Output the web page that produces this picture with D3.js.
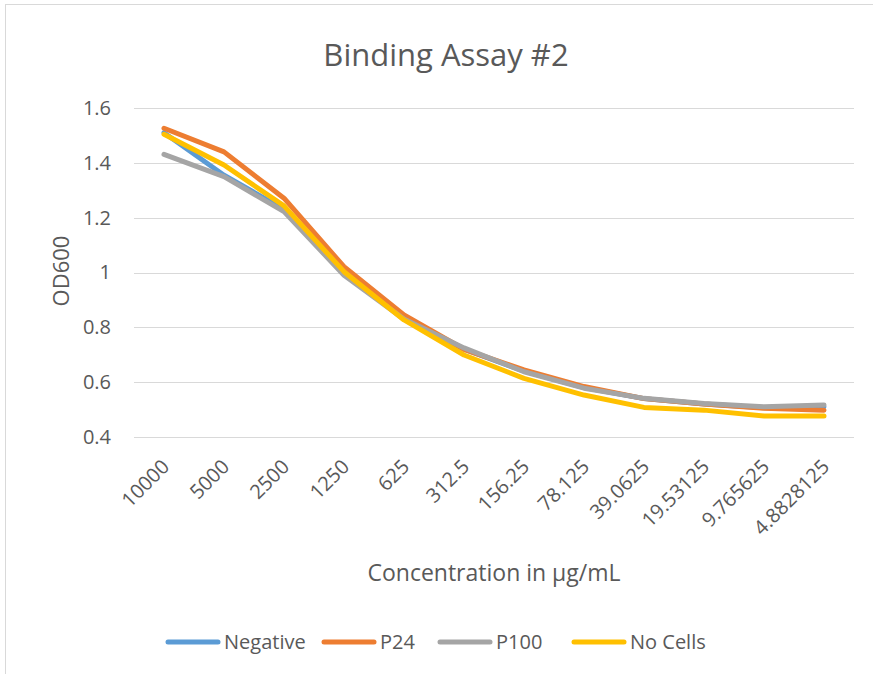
<!DOCTYPE html>
<html>
<head>
<meta charset="utf-8">
<script src="https://cdn.jsdelivr.net/npm/d3@7"></script>
<style>
  body { margin: 0; background: #fff; }
  svg { display: block; font-family: "Open Sans", sans-serif; }
</style>
</head>
<body>
<svg id="chart" width="873" height="674"></svg>
<script>
// dilution series (x categories), as printed on the axis
const categories = ["10000", "5000", "2500", "1250", "625", "312.5", "156.25",
    "78.125", "39.0625", "19.53125", "9.765625", "4.8828125"];

// OD600 readings
const negative = [1.51, 1.355, 1.23, 1.01, 0.835, 0.72, 0.64, 0.58, 0.54, 0.52, 0.507, 0.51];
const p24      = [1.526, 1.44, 1.271, 1.021, 0.845, 0.72, 0.645, 0.584, 0.54, 0.52, 0.505, 0.498];
const p100     = [1.431, 1.35, 1.222, 0.99, 0.83, 0.725, 0.638, 0.578, 0.541, 0.522, 0.51, 0.517];
const noCells  = [1.504, 1.392, 1.243, 1.003, 0.827, 0.699, 0.614, 0.553, 0.508, 0.498, 0.477, 0.477];

const seriesNames = ["Negative", "P24", "P100", "No Cells"];
const yTicks = [0.4, 0.6, 0.8, 1.0, 1.2, 1.4, 1.6];

const colors = {
    Negative: '#5B9BD5',
    P24: '#ED7D31',
    P100: '#A5A5A5',
    'No Cells': '#FFC000'
};
const textColor = '#595959';

const series = [
    { name: "Negative", values: negative },
    { name: "P24", values: p24 },
    { name: "P100", values: p100 },
    { name: "No Cells", values: noCells }
];

const svg = d3.select('#chart');

// chart area border
svg.append('rect')
    .attr('x', 5.5)
    .attr('y', 4.5)
    .attr('width', 900)
    .attr('height', 700)
    .attr('fill', 'none')
    .attr('stroke', '#d9d9d9')
    .attr('stroke-width', 1);

const plot = { left: 134, right: 854, top: 108, bottom: 437 };

const x = d3.scalePoint()
    .domain(categories)
    .range([plot.left, plot.right])
    .padding(0.5);

const y = d3.scaleLinear()
    .domain([0.4, 1.6])
    .range([plot.bottom, plot.top]);

// horizontal gridlines
svg.append('g')
    .selectAll('line')
    .data(yTicks)
    .join('line')
    .attr('x1', plot.left)
    .attr('x2', plot.right)
    .attr('y1', d => Math.round(y(d)) + 0.5)
    .attr('y2', d => Math.round(y(d)) + 0.5)
    .attr('stroke', '#d9d9d9')
    .attr('stroke-width', 1);

// y axis labels
const yAxis = d3.axisLeft(y)
    .tickValues(yTicks)
    .tickSize(0)
    .tickPadding(0)
    .tickFormat(d => String(+d.toFixed(1)));

svg.append('g')
    .attr('transform', `translate(${plot.left - 23},0)`)
    .call(yAxis)
    .call(g => g.select('.domain').remove())
    .selectAll('text')
    .style('font-size', '20px')
    .style('font-family', '"Open Sans", sans-serif')
    .attr('fill', textColor);

// x axis labels, rotated
const xAxis = d3.axisBottom(x)
    .tickSize(0)
    .tickPadding(0);

svg.append('g')
    .attr('transform', `translate(0,${plot.bottom})`)
    .call(xAxis)
    .call(g => g.select('.domain').remove())
    .selectAll('text')
    .style('font-size', '20px')
    .style('font-family', '"Open Sans", sans-serif')
    .attr('fill', textColor)
    .attr('text-anchor', 'end')
    .attr('dy', null)
    .attr('y', 0)
    .attr('transform', 'translate(6,31) rotate(-45)');

// series lines
const line = d3.line()
    .x((d, i) => x(categories[i]))
    .y(d => y(d));

svg.append('g')
    .selectAll('path')
    .data(series)
    .join('path')
    .attr('d', d => line(d.values))
    .attr('fill', 'none')
    .attr('stroke', d => colors[d.name])
    .attr('stroke-width', 5)
    .attr('stroke-linejoin', 'round')
    .attr('stroke-linecap', 'round');

// title
svg.append('text')
    .attr('x', 446)
    .attr('y', 66)
    .attr('text-anchor', 'middle')
    .style('font-size', '31px')
    .attr('fill', textColor)
    .text('Binding Assay #2');

// axis titles
svg.append('text')
    .attr('transform', 'translate(69,271) rotate(-90)')
    .attr('text-anchor', 'middle')
    .style('font-size', '22px')
    .attr('fill', textColor)
    .text('OD600');

svg.append('text')
    .attr('x', (plot.left + plot.right) / 2)
    .attr('y', 581)
    .attr('text-anchor', 'middle')
    .style('font-size', '23px')
    .attr('fill', textColor)
    .text('Concentration in µg/mL');

// legend
const legendX = [168, 324, 440, 574];
const legendY = 642;

const legend = svg.append('g')
    .selectAll('g')
    .data(seriesNames)
    .join('g')
    .attr('transform', (d, i) => `translate(${legendX[i]},${legendY})`);

legend.append('line')
    .attr('x1', 0)
    .attr('x2', 50)
    .attr('y1', 0)
    .attr('y2', 0)
    .attr('stroke', d => colors[d])
    .attr('stroke-width', 5)
    .attr('stroke-linecap', 'round');

legend.append('text')
    .attr('x', 56)
    .attr('y', 0)
    .attr('dy', '0.35em')
    .style('font-size', '20px')
    .attr('fill', textColor)
    .text(d => d);
</script>
</body>
</html>
